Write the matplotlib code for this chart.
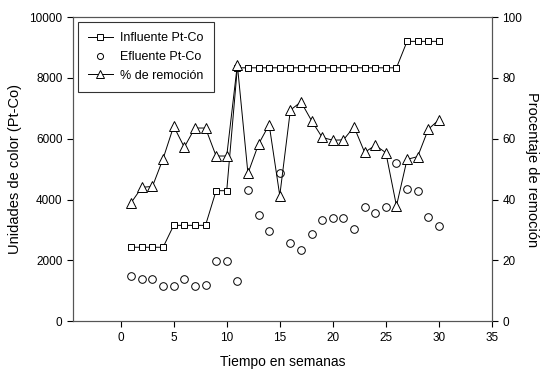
import matplotlib
matplotlib.use("Agg")
import matplotlib.pyplot as plt
import numpy as np

plt.rcParams["font.family"] = ["Liberation Sans", "DejaVu Sans"]

semanas = list(range(1, 31))
influente = [2430] * 4 + [3150] * 4 + [4290] * 2 + [8330] * 16 + [9200] * 4
efluente = [1490, 1370, 1370, 1150, 1150, 1370, 1170, 1180, 1970, 1970,
            1316, 4320, 3490, 2970, 4880, 2555, 2335, 2860, 3310, 3400,
            3390, 3030, 3750, 3540, 3740, 5210, 4340, 4280, 3430, 3140]
remocion = [39.0, 44.0, 44.3, 53.4, 64.1, 57.2, 63.5, 63.5, 54.3, 54.3,
            84.3, 48.6, 58.2, 64.6, 41.3, 69.4, 72.1, 65.9, 60.4, 59.5,
            59.6, 63.9, 55.5, 57.8, 55.4, 37.9, 53.2, 54.1, 63.1, 66.2]

fig = plt.figure(figsize=(5.4, 3.7), dpi=100)
ax = fig.add_axes([0.135, 0.132, 0.776, 0.822])
ax2 = ax.twinx()

mk = dict(markerfacecolor="white", markeredgecolor="black", markeredgewidth=0.7)
l1, = ax.plot(semanas, influente, color="black", lw=0.7, marker="s", markersize=5,
              label="Influente Pt-Co", **mk)
l2, = ax.plot(semanas, efluente, linestyle="none", marker="o", markersize=5.5,
              label="Efluente Pt-Co", **mk)
l3, = ax2.plot(semanas, remocion, color="black", lw=0.7, marker="^", markersize=6.5,
               label="% de remoción", **mk)

ax.set_xlim(-4.5, 35)
ax.set_ylim(0, 10000)
ax2.set_ylim(0, 100)
ax.set_xticks(range(0, 36, 5))
ax.set_yticks(range(0, 10001, 2000))
ax2.set_yticks(range(0, 101, 20))

for a in (ax, ax2):
    a.tick_params(direction="out", length=4, width=0.8, labelsize=8.5, colors="black")
    for s in a.spines.values():
        s.set_linewidth(0.8)
        s.set_color("#555555")

ax.set_xlabel("Tiempo en semanas", fontsize=10, labelpad=8)
ax.set_ylabel("Unidades de color (Pt-Co)", fontsize=10.5, labelpad=5)
ax2.set_ylabel("Procentaje de remoción", fontsize=10.5, rotation=270, labelpad=12)

leg = ax.legend(handles=[l1, l2, l3], loc="upper left", fontsize=9, frameon=True,
                fancybox=False, borderaxespad=0.4, handlelength=2.0,
                markerscale=0.8, labelspacing=0.55, borderpad=0.8,
                handletextpad=0.6)
leg.get_frame().set_edgecolor("black")
leg.get_frame().set_linewidth(0.8)

fig.savefig("out.png", dpi=100)
